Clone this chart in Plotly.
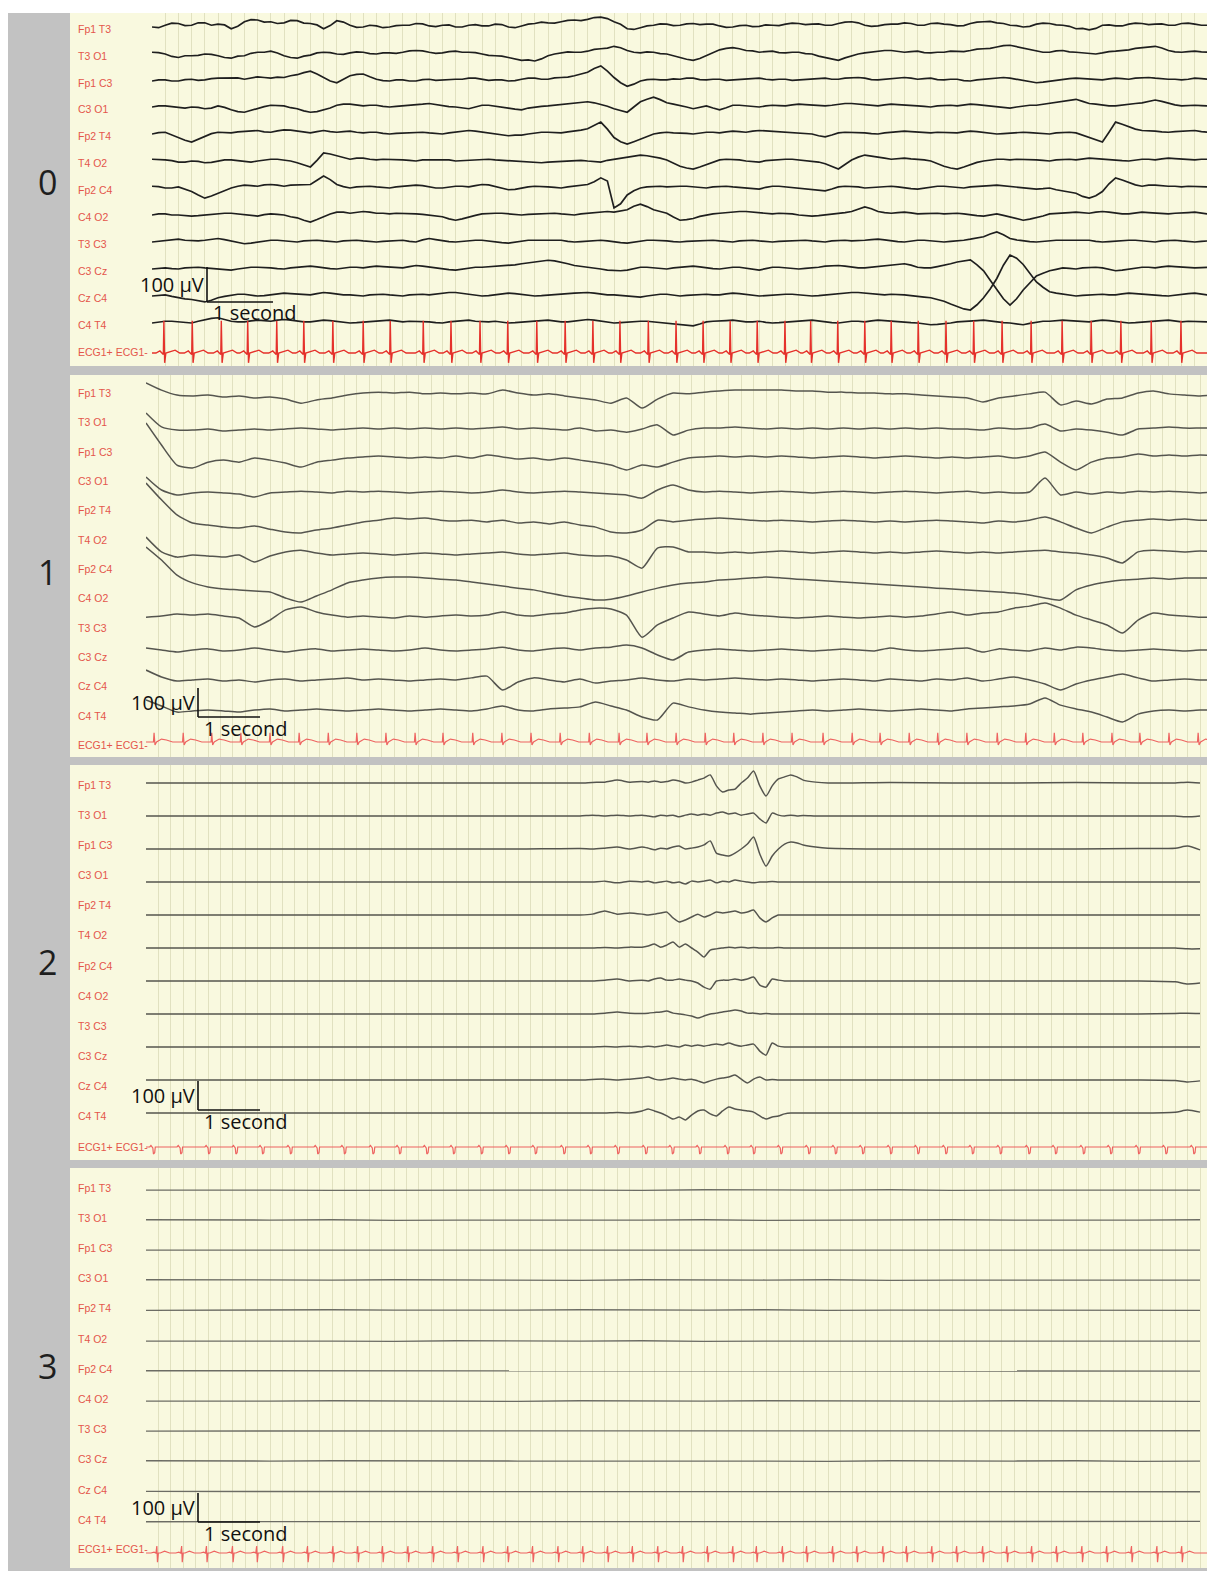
import plotly.graph_objects as go

W, H = 1207, 1571

# ---------------- labels ----------------
channel_labels = ["Fp1 T3", "T3 O1", "Fp1 C3", "C3 O1", "Fp2 T4", "T4 O2",
                  "Fp2 C4", "C4 O2", "T3 C3", "C3 Cz", "Cz C4", "C4 T4"]
ecg_label = "ECG1+ ECG1-"
panel_names = ["0", "1", "2", "3"]
scale_uv_text = "100 µV"
scale_s_text = "1 second"

# ================= PANEL 0 (µV, one sample every 0.1 s) =================
p0_step_s = 0.1
p0_fp1t3 = [0,-2,5,11,10,4,5,12,12,5,8,6,-5,2,15,21,20,14,15,10,
            12,19,18,11,10,6,-5,4,18,14,5,-1,0,5,3,-2,0,4,5,5,
            10,9,3,1,5,6,0,0,5,7,3,3,8,7,0,-2,3,8,10,14,
            12,11,15,19,20,18,22,27,28,24,15,8,-5,-7,-2,3,5,9,8,4,
            5,9,10,7,8,8,3,-1,0,4,5,1,2,6,5,4,8,11,10,7,
            8,9,5,5,10,14,15,12,5,2,3,7,8,8,12,10,5,5,10,11,
            8,7,3,4,10,14,15,16,12,10,5,4,0,2,8,11,10,6,5,2,
            -5,-4,-8,-4,5,6,3,3,8,11,10,7,8,9,5,5,10,11,8,5,5]
p0_t3o1 = [5,4,0,-7,-10,-5,-5,-4,0,-1,-5,-10,-12,-6,-5,2,5,5,8,3,
           -5,-10,-12,-6,-3,3,5,4,0,-1,3,6,5,1,0,3,3,2,5,9,
           10,9,5,2,3,7,8,5,5,4,0,-4,-5,-6,-10,-15,-18,-17,-20,-14,
           -5,0,3,6,5,5,8,13,15,17,22,18,10,5,3,6,5,1,0,-6,
           -10,-15,-18,-13,-5,4,12,16,18,15,10,9,5,7,8,4,3,5,5,1,
           0,-6,-10,-15,-18,-11,-5,0,3,6,8,10,10,8,5,7,8,4,3,5,
           5,8,8,7,10,14,15,16,20,24,25,21,15,12,8,5,5,9,10,6,
           5,3,0,0,3,7,8,9,12,16,18,19,22,17,10,6,5,7,8,6,5]
p0_fp1c3 = [0,3,3,0,0,4,5,2,3,7,8,8,10,9,5,9,12,10,8,11,
            10,15,18,24,28,20,10,0,-5,6,15,19,20,12,5,1,0,3,3,0,
            0,4,5,2,3,6,5,5,8,8,5,2,3,3,0,1,5,8,8,5,
            5,9,10,11,15,21,25,36,43,28,10,-5,-15,-9,0,4,5,3,3,6,
            5,8,8,4,3,5,5,2,3,6,5,7,8,5,3,5,5,2,3,5,
            5,7,8,5,5,8,10,10,8,4,3,5,5,8,10,8,5,7,8,4,
            3,5,5,1,0,3,5,8,10,10,8,5,3,-2,-5,-3,0,3,5,7,
            8,7,5,3,3,6,8,7,5,8,10,10,8,6,5,5,3,5,8,7,5]
p0_c3o1 = [0,3,3,1,-3,-3,0,-1,-5,-3,3,-1,-8,-13,-15,-9,-5,1,5,5,
           3,-2,-5,-11,-15,-13,-8,-3,5,8,8,5,3,5,5,2,0,2,3,4,
           5,8,10,7,3,1,0,-3,-5,0,5,5,3,0,-3,-6,-8,-3,0,2,
           3,5,5,7,10,13,15,12,8,2,-5,-11,-15,0,15,22,28,21,12,8,
           5,0,-5,-2,3,-3,-8,-2,5,5,3,2,0,3,5,4,3,6,8,7,
           5,5,3,5,8,10,10,8,5,3,3,6,8,7,5,4,3,2,0,3,
           5,5,3,5,8,7,5,3,0,-2,-3,0,3,5,5,8,10,13,15,19,
           22,16,10,8,5,3,3,6,8,10,12,17,20,16,10,6,3,5,5,4,3]
p0_fp2t4 = [0,4,5,-3,-10,-18,-23,-15,-5,1,5,5,3,6,8,10,10,6,5,9,
            12,11,8,5,3,7,10,7,5,7,8,5,3,5,5,2,0,2,3,5,
            5,5,3,1,0,3,5,8,10,8,5,3,0,-3,-5,-3,-3,0,3,5,
            5,5,3,6,8,11,15,25,34,14,-10,-22,-29,-22,-15,-7,0,3,5,3,
            3,2,0,3,5,5,3,6,8,7,5,8,10,9,8,7,5,4,3,1,
            0,-5,-8,-3,3,5,5,5,3,1,0,3,5,7,8,7,5,4,3,5,
            5,5,3,6,8,7,5,3,0,1,3,5,5,4,3,1,0,3,5,5,
            3,-4,-10,-18,-23,5,34,28,20,14,10,10,8,6,5,7,8,10,10,7,5]
p0_t4o2 = [5,5,3,1,-3,-3,0,-1,-5,-4,0,3,3,1,-3,-3,0,3,5,5,
           3,0,-5,-12,-17,2,23,20,15,11,5,8,8,5,3,5,5,5,3,2,
           0,3,3,5,5,3,0,1,3,5,5,5,3,2,0,-2,-3,-3,-5,-5,
           -3,-2,0,2,3,2,0,-2,-3,2,5,8,10,14,17,15,12,8,3,-6,
           -15,-20,-23,-17,-10,-3,3,5,5,3,0,-2,-3,1,3,5,5,5,3,2,
           0,-3,-8,-16,-23,-10,3,11,17,14,10,8,5,7,8,6,5,3,0,-8,
           -15,-20,-23,-17,-10,-4,0,3,5,5,3,5,5,5,3,2,0,3,5,5,
           3,6,8,7,5,5,3,1,0,3,5,5,3,6,8,7,5,3,3,5,5]
p0_fp2c4 = [5,4,0,0,3,-3,-10,-20,-29,-23,-15,-6,0,5,8,7,5,9,10,8,
            5,8,8,8,10,22,34,24,10,4,0,3,5,5,3,1,0,3,5,7,
            8,7,3,0,0,3,5,5,3,7,10,9,5,0,-5,-4,0,3,5,5,
            3,2,0,3,5,8,10,18,29,20,-57,-45,-20,-8,0,3,5,5,3,5,
            5,5,3,1,0,3,5,5,3,1,0,-2,-3,2,5,5,3,2,0,-3,
            -5,-8,-8,-3,3,5,5,3,0,1,3,5,5,3,0,-2,-3,0,3,5,
            5,3,0,0,3,5,5,7,8,6,3,1,0,-2,-3,-2,0,-5,-8,-12,
            -15,-24,-29,-22,-10,12,29,23,15,9,5,8,8,6,5,5,3,5,5,3,3]
p0_c4o2 = [0,3,3,0,0,-2,-3,-2,0,3,3,5,5,3,0,-3,-3,1,3,2,
           0,-5,-8,-15,-20,-13,-5,3,8,8,5,8,10,8,5,5,3,5,5,4,
           3,2,0,-3,-5,-11,-15,-11,-5,-1,3,5,5,5,3,1,0,2,3,5,
           5,5,3,1,0,3,5,8,10,10,8,12,15,25,31,24,15,10,5,-6,
           -15,-13,-10,-4,0,3,5,7,8,10,10,8,5,3,3,5,5,3,0,-2,
           -3,-2,0,2,3,7,10,17,23,18,10,7,5,7,8,6,3,4,5,5,
           3,5,5,3,0,-2,-3,1,3,-1,-5,-11,-15,-12,-8,-3,3,5,5,7,
           8,7,5,8,10,8,5,3,3,6,8,7,5,3,3,5,5,7,8,5,3]
p0_t3c3 = [0,2,3,6,8,5,3,3,5,8,10,7,3,-2,-5,-3,0,3,5,5,
           3,2,0,3,5,5,3,1,0,3,5,5,3,1,0,2,3,5,5,2,
           0,6,10,7,3,1,0,2,3,5,5,2,0,-2,-3,0,3,5,5,5,
           3,5,5,2,0,1,3,5,5,3,0,-2,-3,0,3,5,5,5,3,1,
           0,2,3,5,5,5,3,1,0,3,5,5,3,1,0,2,3,5,5,5,
           3,1,0,3,5,5,3,3,5,7,8,6,3,1,0,3,5,5,3,1,
           0,2,3,5,8,12,15,23,29,21,10,6,3,1,0,2,3,5,5,5,
           3,5,5,2,0,1,3,5,5,5,3,1,0,3,5,5,3,1,0,2,3]
p0_c3cz = [0,2,3,1,0,3,5,5,3,1,0,-2,-3,0,3,5,5,5,3,1,
           0,3,5,7,8,6,3,1,0,3,5,5,3,6,8,7,5,3,3,7,
           10,8,5,2,0,-2,-3,0,3,5,5,6,8,10,10,12,15,18,20,23,
           25,23,20,15,10,8,5,2,0,-3,-5,-5,-3,1,5,5,3,1,0,3,
           5,7,8,6,3,1,0,3,5,5,3,0,-3,1,5,5,3,1,0,2,
           3,5,8,10,10,8,5,3,3,5,8,10,10,12,15,11,5,3,3,7,
           10,15,20,24,26,12,-5,-32,-60,-85,-103,-85,-60,-40,-20,-12,-5,-1,3,2,
           0,3,5,5,3,-1,-5,-3,0,3,5,5,3,6,8,7,5,3,3,4,5]
p0_czc4 = [0,2,3,-1,-5,-8,-10,-14,-17,-12,-5,-1,3,5,5,2,0,1,3,6,
           8,7,5,3,3,7,10,8,5,3,3,1,0,3,5,5,3,1,0,3,
           5,5,3,6,8,10,10,8,5,2,0,1,3,6,8,7,5,2,0,1,
           3,5,5,7,8,10,10,8,5,3,3,1,0,-2,-3,0,3,5,5,2,
           0,2,3,5,5,3,3,6,8,7,5,2,0,1,3,5,5,5,3,1,
           0,1,3,5,5,8,10,10,8,5,3,3,5,5,3,1,0,-3,-5,-10,
           -15,-23,-30,-37,-40,-25,-5,20,50,88,117,108,90,65,40,25,12,8,5,2,
           0,2,3,5,5,3,3,6,8,7,5,3,3,1,0,3,5,7,8,5,3]
p0_c4t4 = [0,3,5,5,3,1,0,5,10,13,15,10,5,3,3,6,8,7,5,8,
           10,8,5,3,3,6,8,7,5,2,0,1,3,5,5,7,8,5,3,5,
           5,5,3,1,0,3,5,7,8,5,3,3,5,2,0,1,3,5,5,7,
           8,5,3,3,5,8,10,8,5,2,0,1,3,5,5,5,3,1,0,-2,
           -3,-6,-8,-3,3,5,5,7,8,5,3,3,5,2,0,1,3,5,5,7,
           8,5,3,1,0,3,5,5,3,6,8,7,5,3,3,1,0,-3,-5,-4,
           -3,0,3,5,5,7,8,5,3,1,0,-3,-5,-1,3,5,5,7,8,7,
           5,3,3,6,8,7,5,2,0,1,3,5,5,7,8,5,3,5,5,3,3]
p0_ecg_beats_s = [0.18,0.61,1.05,1.45,1.89,2.30,2.74,3.20,3.61,4.11,4.53,4.97,5.39,5.83,6.26,6.68,7.09,7.52,
                  7.94,8.35,8.76,9.17,9.59,9.98,10.39,10.80,11.20,11.61,12.03,12.45,12.88,13.32,13.79,14.23,
                  14.68,15.14,15.59]
p0_ecg_beat_dt = [-0.12, -0.06, -0.02, -0.008, 0.0, 0.012, 0.03, 0.10, 0.17, 0.24]
p0_ecg_beat_uv = [0, 6, 0, -4, 92, -28, 0, 4, 8, 0]

# ================= PANEL 1 (µV, one sample every 0.25 s) =================
p1_step_s = 0.25
p1_fp1t3 = [35,10,-7,-10,-7,-14,-10,-17,-14,-21, -35,-24,-17,-7,0,3,0,3,-3,0, -3,0,-3,10,0,-7,-3,-10,-17,-24,
            -35,-17,-52,-21,0,-3,3,7,10,10, 10,10,7,7,3,3,0,0,-3,-3, -7,-10,-14,-17,-31,-17,-10,-3,3,-41,
            -28,-38,-21,-17,0,7,-3,-7,-10,-7]
p1_t3o1 = [31,-17,-28,-28,-24,-31,-28,-24,-28,-24, -21,-24,-28,-24,-21,-24,-21,-24,-21,-24, -21,-24,-21,-17,-24,-21,-24,-28,-21,-31,
           -28,-35,-24,-10,-45,-28,-21,-21,-17,-21, -24,-21,-24,-21,-24,-21,-24,-21,-24,-21, -24,-21,-24,-24,-28,-21,-24,-21,-7,-31,
           -24,-28,-35,-45,-24,-21,-17,-21,-21,-21]
p1_fp1c3 = [100,24,-45,-55,-35,-28,-35,-21,-28,-38, -52,-35,-28,-21,-17,-14,-17,-21,-17,-21, -14,-21,-10,-17,-24,-21,-28,-21,-28,-35,
            -45,-62,-45,-52,-35,-21,-17,-14,-17,-14, -17,-14,-17,-21,-17,-14,-17,-21,-17,-14, -17,-21,-17,-21,-17,-14,-21,-14,0,-35,
            -62,-35,-21,-17,-7,-14,-10,-14,-10,-14]
p1_c3o1 = [14,-31,-48,-41,-38,-41,-45,-55,-41,-38, -35,-38,-41,-35,-38,-35,-38,-41,-38,-35, -38,-41,-38,-31,-38,-41,-38,-35,-38,-41,
           -45,-48,-59,-31,-14,-31,-38,-35,-38,-41, -38,-35,-38,-41,-38,-35,-38,-41,-38,-35, -38,-41,-38,-35,-41,-38,-41,-38,10,-48,
           -38,-45,-38,-41,-35,-38,-35,-38,-41,-38]
p1_fp2t4 = [93,35,-17,-45,-52,-59,-62,-55,-66,-76, -79,-69,-62,-52,-41,-35,-28,-31,-28,-35, -38,-35,-41,-35,-45,-41,-48,-41,-52,-59,
            -76,-79,-69,-35,-41,-35,-31,-28,-31,-35, -38,-35,-38,-41,-38,-35,-38,-41,-38,-41, -38,-35,-38,-41,-45,-38,-41,-35,-24,-41,
            -62,-79,-59,-41,-35,-31,-35,-31,-35,-35]
p1_t4o2 = [10,-41,-59,-52,-55,-59,-52,-76,-55,-41, -35,-45,-52,-48,-45,-48,-52,-48,-45,-48, -52,-48,-45,-41,-48,-52,-48,-45,-52,-55,
           -55,-69,-97,-28,-24,-41,-41,-45,-41,-45, -41,-38,-41,-45,-41,-38,-41,-45,-41,-45, -41,-38,-41,-45,-41,-45,-41,-38,-35,-41,
           -45,-52,-62,-79,-41,-35,-38,-41,-38,-41]
p1_fp2c4 = [76,31,-21,-48,-62,-69,-72,-76,-79,-100, -114,-93,-72,-48,-38,-31,-28,-28,-31,-35, -38,-45,-52,-59,-66,-72,-83,-93,-100,-107,
            -104,-93,-79,-66,-55,-48,-45,-38,-35,-31, -28,-31,-35,-38,-41,-45,-48,-52,-55,-59, -62,-66,-69,-72,-76,-79,-83,-90,-100,-107,
            -72,-55,-45,-38,-35,-31,-35,-31,-31,-31]
p1_c4o2 = [-66,-62,-55,-59,-55,-62,-69,-100,-76,-41, -31,-48,-59,-66,-62,-66,-69,-62,-66,-62, -59,-62,-59,-48,-59,-62,-55,-52,-41,-35,
           -38,-59,-135,-93,-69,-48,-55,-62,-52,-59, -62,-66,-69,-66,-62,-66,-69,-66,-62,-66, -62,-55,-48,-59,-52,-48,-35,-28,-17,-35,
           -59,-76,-93,-121,-76,-52,-59,-62,-66,-66]
p1_t3c3 = [-69,-76,-83,-76,-72,-79,-76,-69,-76,-83, -76,-72,-79,-76,-72,-76,-79,-76,-69,-76, -79,-76,-72,-66,-76,-79,-72,-69,-76,-69,
           -66,-59,-69,-93,-110,-83,-76,-72,-76,-79, -76,-72,-76,-79,-76,-72,-76,-79,-69,-76, -79,-76,-72,-69,-83,-72,-76,-79,-69,-76,
           -66,-69,-76,-79,-76,-72,-76,-79,-76,-76]
p1_c3cz = [-45,-69,-83,-79,-76,-83,-79,-86,-79,-76, -83,-79,-76,-72,-79,-76,-79,-83,-79,-76, -79,-72,-66,-114,-86,-72,-79,-86,-76,-90,
           -83,-79,-72,-79,-83,-76,-79,-76,-72,-76, -79,-76,-79,-83,-79,-76,-79,-83,-76,-79, -83,-76,-79,-72,-83,-76,-69,-79,-93,-114,
           -93,-79,-69,-59,-72,-83,-79,-76,-79,-79]
p1_czc4 = [-48,-69,-90,-86,-83,-86,-90,-83,-79,-86, -83,-79,-83,-86,-83,-79,-83,-86,-83,-79, -83,-86,-79,-69,-83,-86,-79,-76,-72,-55,
           -69,-83,-107,-117,-59,-72,-83,-90,-93,-97, -93,-90,-86,-83,-86,-83,-79,-83,-86,-83, -79,-83,-86,-79,-76,-72,-69,-62,-41,-66,
           -79,-90,-107,-124,-97,-86,-83,-86,-83,-83]
p1_ecg_beats_s = [0.13,0.60,1.06,1.53,2.00,2.47,2.94,3.40,3.87,4.34,4.79,5.27,5.74,6.21,6.68,7.15,7.63,8.08,8.55,
                  9.02,9.48,9.95,10.42,10.92,11.39,11.84,12.31,12.77,13.24,13.73,14.19,14.65,15.11,15.58,16.03,
                  16.50,16.97]
p1_ecg_beat_dt = [-0.10, -0.01, 0.0, 0.015, 0.04, 0.12, 0.20, 0.30]
p1_ecg_beat_uv = [0, 0, 32, -10, 0, 10, 7, 0]

# ================= PANEL 2 (µV at the listed times) =================
p2_times_s = [0, 1, 2, 3, 4, 5, 6,
              7.0, 7.2, 7.4, 7.6, 7.8,
              8.0, 8.1, 8.2, 8.3, 8.4, 8.5, 8.6, 8.7, 8.8, 8.9,
              9.0, 9.1, 9.2, 9.3, 9.4, 9.5, 9.6, 9.7, 9.8, 9.9,
              10.0, 10.1, 10.2, 10.3, 10.4, 10.5, 10.6,
              10.8, 11.0,
              12, 13, 14, 15, 16,
              16.6, 16.8, 17.0]
p2_tr0 = [0,0,0,0,0,0,0, 0,2,3,10,3, 5,3,7,3,5,10,7,0,3,10, 17,28,-10,-31,-24,-21,0,17,41,-10,
          -45,-10,14,21,28,21,10, 3,0, 2,0,0,2,0, 0,3,0]
p2_tr1 = [0,0,0,0,0,0,0, 0,3,0,3,0, 3,0,-3,3,0,3,-3,3,7,3, 7,3,10,14,7,10,3,7,10,-10,
          -24,10,3,0,3,0,2, 0,0, 0,0,0,0,0, 0,-3,0]
p2_tr2 = [0,0,0,0,0,0,0, 2,0,3,7,0, 7,3,-3,3,0,7,10,0,3,7, 14,28,-14,-21,-24,-14,0,17,41,-17,
          -59,-24,0,17,24,21,14, 7,3, 0,0,0,0,2, 3,10,-3]
p2_tr3 = [0,0,0,0,0,0,0, 0,0,3,-3,3, 0,3,-3,0,3,-3,0,-7,3,0, 3,7,-3,3,0,7,3,0,-3,0,
          0,2,0,0,0,0,0, 0,0, 0,0,0,0,0, 0,0,0]
p2_tr4 = [0,0,0,0,0,0,0, 0,3,14,3,7, 3,0,3,7,10,-10,-24,-17,-7,3, -7,0,10,7,10,14,7,10,17,-10,
          -24,-10,0,0,0,0,0, 0,0, 0,0,0,0,0, 0,0,0]
p2_tr5 = [0,0,0,0,0,0,0, 0,0,2,0,3, 3,7,14,3,10,21,3,14,0,-14, -31,-7,-3,0,3,0,3,0,2,0,
          0,0,2,0,0,0,0, 0,0, 0,0,0,0,0, 0,-3,-3]
p2_tr6 = [0,0,0,0,0,0,0, 0,0,3,7,0, 3,0,7,10,3,3,7,3,0,-7, -21,-28,0,3,3,7,3,7,14,-14,
          -21,7,3,0,0,0,0, 0,0, 0,0,0,0,0, -3,-10,-7]
p2_tr7 = [0,0,0,0,0,0,0, 0,0,3,7,3, 2,3,5,7,10,3,0,-3,-7,-14, -7,0,3,7,10,14,10,3,3,0,
          2,0,0,0,0,0,0, 0,0, 0,0,0,0,0, 2,3,2]
p2_tr8 = [0,0,0,0,0,0,0, 0,0,2,0,3, 0,3,0,3,7,3,0,7,3,7, 3,7,10,7,14,7,3,7,10,-14,
          -28,14,3,0,0,0,0, 0,0, 0,0,0,0,0, 0,0,0]
p2_tr9 = [0,0,0,0,0,0,0, 0,2,3,0,3, 7,10,3,0,3,7,3,0,3,-3, -10,-3,3,7,10,17,3,-10,3,10,
          0,2,0,0,0,0,0, 0,0, 0,0,0,0,0, -2,-7,-3]
p2_tr10 = [0,0,0,0,0,0,0, 0,0,0,2,0, 7,14,7,0,-10,-21,-14,-24,-7,7, 10,-3,-10,7,21,14,10,7,3,-10,
           -21,-14,-10,-3,0,0,0, 0,0, 0,0,0,0,0, 3,10,3]
p2_ecg_beats_s = [0.11,0.55,1.00,1.44,1.87,2.32,2.76,3.19,3.65,4.08,4.52,4.95,5.40,5.84,6.27,6.73,7.16,7.60,
                  8.05,8.48,8.92,9.37,9.79,10.23,10.68,11.11,11.55,12.00,12.44,12.89,13.32,13.77,14.23,14.66,
                  15.11,15.55,16.00,16.44,16.89]
p2_ecg_beat_dt = [-0.05, -0.03, -0.015, 0.0, 0.01, 0.03, 0.04]
p2_ecg_beat_uv = [0, 5, 0, -3, -24, -20, 0]

# ================= PANEL 3 (µV, one sample every 1 s) =================
p3_step_s = 1.0
p3_fp1t3 = [-7,-6,-7,-8,-7,-6,-7,-7,-8,-6,-7,-7,-6,-8,-7,-7,-6,-7]
p3_t3o1 = [-6,-7,-7,-6,-8,-7,-6,-7,-7,-6,-8,-7,-7,-6,-7,-8,-7,-6]
p3_fp1c3 = [-7,-7,-6,-7,-8,-7,-7,-6,-7,-7,-8,-6,-7,-7,-6,-7,-8,-7]
p3_c3o1 = [-6,-7,-8,-7,-6,-7,-7,-8,-6,-7,-7,-6,-8,-7,-7,-6,-7,-7]
p3_fp2t4 = [-8,-7,-7,-6,-7,-8,-7,-6,-7,-7,-6,-8,-7,-7,-6,-7,-7,-8]
p3_t4o2 = [-7,-6,-7,-7,-8,-6,-7,-7,-6,-8,-7,-7,-6,-7,-8,-7,-6,-7]
p3_fp2c4 = [-6,-6,-7,-6,-6,-7,-6,-6,-7,-6,-6,-7,-6,-6,-7,-6,-6,-7]
p3_c4o2 = [-7,-8,-7,-6,-7,-7,-8,-6,-7,-7,-6,-7,-8,-7,-6,-7,-7,-8]
p3_t3c3 = [-7,-7,-6,-8,-7,-7,-6,-7,-8,-7,-6,-7,-7,-8,-6,-7,-7,-6]
p3_c3cz = [-6,-7,-7,-6,-7,-8,-7,-7,-6,-7,-7,-8,-6,-7,-7,-6,-8,-7]
p3_czc4 = [-5,-5,-6,-5,-5,-6,-5,-5,-6,-5,-5,-6,-5,-5,-6,-5,-5,-6]
p3_c4t4 = [-6,-6,-5,-6,-6,-5,-6,-6,-5,-6,-6,-5,-6,-6,-5,-6,-6,-5]
p3_ecg_beats_s = [0.18,0.58,0.98,1.40,1.79,2.21,2.61,3.02,3.42,3.82,4.23,4.63,5.03,5.44,5.84,6.24,6.65,7.05,
                  7.45,7.85,8.26,8.66,9.06,9.47,9.85,10.27,10.66,11.08,11.47,11.89,12.27,12.68,13.08,13.50,
                  13.89,14.29,14.69,15.10,15.50,15.90,16.31,16.71]
p3_ecg_beat_dt = [-0.10, -0.05, -0.02, -0.005, 0.005, 0.02, 0.05, 0.12, 0.20]
p3_ecg_beat_uv = [0, 3, 0, 24, -32, 0, 0, 6, 0]


# ---------------- helpers ----------------
def regular_times(n, step):
    return [round(i * step, 4) for i in range(n)]


def ecg_trace(beats, dts, amps, t_end):
    xs, ys = [0.0], [0.0]
    for b in beats:
        for d, a in zip(dts, amps):
            xs.append(b + d)
            ys.append(a)
    xs.append(t_end)
    ys.append(0.0)
    return xs, ys


BG = "#F9F9DF"
GRID = "rgba(205,205,165,0.55)"

p0_eeg = [p0_fp1t3, p0_t3o1, p0_fp1c3, p0_c3o1, p0_fp2t4, p0_t4o2, p0_fp2c4, p0_c4o2,
          p0_t3c3, p0_c3cz, p0_czc4, p0_c4t4]
p1_eeg = [p1_fp1t3, p1_t3o1, p1_fp1c3, p1_c3o1, p1_fp2t4, p1_t4o2, p1_fp2c4, p1_c4o2,
          p1_t3c3, p1_c3cz, p1_czc4]
p2_eeg = [p2_tr0, p2_tr1, p2_tr2, p2_tr3, p2_tr4, p2_tr5, p2_tr6, p2_tr7, p2_tr8, p2_tr9, p2_tr10]
p3_eeg = [p3_fp1t3, p3_t3o1, p3_fp1c3, p3_c3o1, p3_fp2t4, p3_t4o2, p3_fp2c4, p3_c4o2,
          p3_t3c3, p3_c3cz, p3_czc4, p3_c4t4]

for arr in p0_eeg:
    assert len(arr) == 161, len(arr)
for arr in p1_eeg:
    assert len(arr) == 70, len(arr)
for arr in p2_eeg:
    assert len(arr) == len(p2_times_s), len(arr)

# geometry (pixels) – layout only
panels = [
    dict(top=13, bottom=366, x0=152, pps=66.0, px100=35.0,
         label_rows=[29, 56, 83, 109, 136, 163, 190, 217, 244, 271, 298, 325, 352],
         trace_rows=[27, 54, 81, 107, 134, 161, 188, 215, 242, 269, 296, 323],
         ecg_row=353, num_y=182, bar=(207, 302),
         eeg=p0_eeg, times=[regular_times(161, p0_step_s)] * 12, shape="linear",
         ecg=(p0_ecg_beats_s, p0_ecg_beat_dt, p0_ecg_beat_uv),
         color="#1f1f1f", width=1.7, ecg_color="#E5312B", ecg_width=1.4),
    dict(top=375, bottom=757, x0=146, pps=62.0, px100=29.0,
         label_rows=[393, 422, 452, 481, 510, 540, 569, 598, 628, 657, 686, 716, 745],
         trace_rows=[393, 422, 452, 481, 510, 540, 569, 598, 628, 657, 686],
         ecg_row=742, num_y=572, bar=(198, 717),
         eeg=p1_eeg, times=[regular_times(70, p1_step_s)] * 11, shape="spline",
         ecg=(p1_ecg_beats_s, p1_ecg_beat_dt, p1_ecg_beat_uv),
         color="#55554f", width=1.5, ecg_color="#EE6360", ecg_width=1.2),
    dict(top=765, bottom=1160, x0=146, pps=62.0, px100=29.0,
         label_rows=[785, 815, 845, 875, 905, 935, 966, 996, 1026, 1056, 1086, 1116, 1147],
         trace_rows=[783, 816, 849, 882, 915, 948, 981, 1014, 1047, 1080, 1113],
         ecg_row=1147, num_y=962, bar=(198, 1110),
         eeg=p2_eeg, times=[p2_times_s] * 11, shape="spline",
         ecg=(p2_ecg_beats_s, p2_ecg_beat_dt, p2_ecg_beat_uv),
         color="#55554f", width=1.5, ecg_color="#EE6360", ecg_width=1.2),
    dict(top=1168, bottom=1568, x0=146, pps=62.0, px100=29.0,
         label_rows=[1188, 1218, 1248, 1278, 1308, 1339, 1369, 1399, 1429, 1459, 1490, 1520, 1549],
         trace_rows=[1188, 1218, 1248, 1278, 1308, 1339, 1369, 1399, 1429, 1459, 1490, 1520],
         ecg_row=1553, num_y=1366, bar=(198, 1522),
         eeg=p3_eeg, times=[regular_times(18, p3_step_s)] * 12, shape="linear",
         ecg=(p3_ecg_beats_s, p3_ecg_beat_dt, p3_ecg_beat_uv),
         color="#6c6c64", width=1.3, ecg_color="#EE6360", ecg_width=1.2),
]

fig = go.Figure()
shapes = []
annotations = []
layout_axes = {}

# white outer margin (top and left), grey frame from paper background
shapes.append(dict(type="rect", xref="paper", yref="paper", x0=0, x1=1, y0=1 - 13 / H, y1=1,
                   fillcolor="white", line=dict(width=0), layer="below"))
shapes.append(dict(type="rect", xref="paper", yref="paper", x0=0, x1=8 / W, y0=0, y1=1,
                   fillcolor="white", line=dict(width=0), layer="below"))

for i, p in enumerate(panels):
    n = "" if i == 0 else str(i + 1)
    xr, yr = "x" + n, "y" + n
    uvpp = 100.0 / p["px100"]
    t_end = (W - p["x0"]) / p["pps"]
    layout_axes["xaxis" + n] = dict(domain=[p["x0"] / W, 1], range=[0, t_end], showgrid=True,
                                    dtick=0.2, tick0=0, gridcolor=GRID, gridwidth=1,
                                    showticklabels=False, zeroline=False, showline=False,
                                    ticks="", anchor=yr, fixedrange=True)
    layout_axes["yaxis" + n] = dict(domain=[1 - p["bottom"] / H, 1 - p["top"] / H],
                                    range=[-p["bottom"] * uvpp, -p["top"] * uvpp],
                                    showgrid=False, showticklabels=False, zeroline=False,
                                    showline=False, ticks="", anchor=xr, fixedrange=True)
    # label column background
    shapes.append(dict(type="rect", xref="paper", yref="paper", x0=70 / W, x1=p["x0"] / W,
                       y0=1 - p["bottom"] / H, y1=1 - p["top"] / H,
                       fillcolor=BG, line=dict(width=0), layer="below"))
    # EEG traces
    for vals, row, ts in zip(p["eeg"], p["trace_rows"], p["times"]):
        base = -row * uvpp
        line = dict(color=p["color"], width=p["width"], shape=p["shape"])
        if p["shape"] == "spline":
            line["smoothing"] = 0.6
        fig.add_trace(go.Scatter(x=ts, y=[base + v for v in vals], xaxis=xr, yaxis=yr,
                                 mode="lines", line=line,
                                 hoverinfo="skip", showlegend=False))
    # ECG
    beats, dts, amps = p["ecg"]
    ex, ey = ecg_trace(beats, dts, amps, t_end + 0.5)
    base = -p["ecg_row"] * uvpp
    fig.add_trace(go.Scatter(x=ex, y=[base + v for v in ey], xaxis=xr, yaxis=yr, mode="lines",
                             line=dict(color=p["ecg_color"], width=p["ecg_width"]),
                             hoverinfo="skip", showlegend=False))
    # channel labels
    labels = channel_labels + [ecg_label]
    for lab, row in zip(labels, p["label_rows"]):
        annotations.append(dict(text=lab, xref="paper", yref="paper", x=76 / W, y=1 - row / H,
                                xanchor="left", yanchor="middle", showarrow=False,
                                font=dict(family="Liberation Sans, Arial", size=10.5, color="#E4564B")))
    # panel number
    annotations.append(dict(text=panel_names[i], xref="paper", yref="paper", x=47 / W,
                            y=1 - p["num_y"] / H, xanchor="center", yanchor="middle",
                            showarrow=False,
                            font=dict(family="Open Sans", size=34, color="#1e1e1e")))
    # scale bar
    bx, by = p["bar"]
    tb = (bx - p["x0"]) / p["pps"]
    yb = -by * uvpp
    shapes.append(dict(type="line", xref=xr, yref=yr, x0=tb, x1=tb, y0=yb, y1=yb + 100,
                       line=dict(color="#111111", width=1.6), layer="above"))
    shapes.append(dict(type="line", xref=xr, yref=yr, x0=tb, x1=tb + 1.0, y0=yb, y1=yb,
                       line=dict(color="#111111", width=1.6), layer="above"))
    annotations.append(dict(text=scale_uv_text, xref="paper", yref="paper", x=(bx - 1) / W,
                            y=1 - (by - p["px100"] * 0.5) / H, xanchor="right", yanchor="middle",
                            showarrow=False, font=dict(family="Open Sans", size=20, color="#111111")))
    annotations.append(dict(text=scale_s_text, xref="paper", yref="paper", x=(bx + 4) / W,
                            y=1 - (by + 11) / H, xanchor="left", yanchor="middle",
                            showarrow=False, font=dict(family="Open Sans", size=20, color="#111111")))

fig.update_layout(width=W, height=H, margin=dict(l=0, r=0, t=0, b=0),
                  paper_bgcolor="#C2C2C2", plot_bgcolor=BG, showlegend=False,
                  shapes=shapes, annotations=annotations, **layout_axes)

fig.write_html("out.html", config={"displayModeBar": False},
               post_script="document.body.style.margin='0';document.body.style.overflow='hidden';")
